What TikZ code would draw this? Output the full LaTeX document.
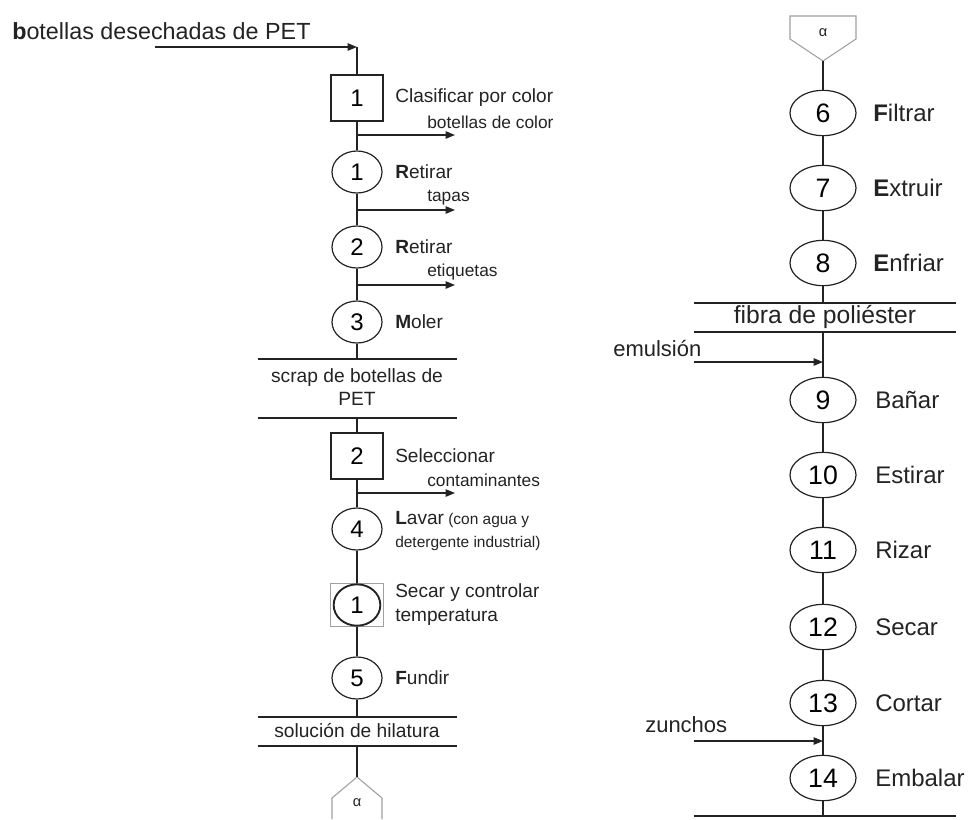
\documentclass[tikz,border=0pt]{standalone}
\usepackage{fontspec}
\setmainfont{Liberation Sans}
\usetikzlibrary{arrows.meta,shapes.geometric,positioning,calc}
\definecolor{lgray}{RGB}{160,160,160}
\definecolor{ink}{RGB}{35,35,35}

\begin{document}
\begin{tikzpicture}[x=0.75pt,y=-0.75pt,
  line/.style={draw=ink,line width=1pt},
  flow/.style={line,-{Triangle[length=7pt,width=5.5pt]}},
  opl/.style={ellipse,draw=ink,line width=0.9pt,minimum width=37.5pt,minimum height=31.5pt,inner sep=0pt,font=\fontsize{18}{18}\selectfont},
  opr/.style={opl,minimum width=49.5pt,minimum height=34pt,font=\fontsize{20}{20}\selectfont},
  insp/.style={rectangle,draw=ink,line width=1.8pt,minimum width=39pt,minimum height=34.5pt,inner sep=0pt,font=\fontsize{18}{18}\selectfont},
  lbl/.style={anchor=west,inner sep=0pt,text=ink,font=\fontsize{14.3}{17}\selectfont},
  sublbl/.style={anchor=west,inner sep=0pt,text=ink,font=\fontsize{13}{15}\selectfont},
  rlbl/.style={anchor=west,inner sep=0pt,text=ink,font=\fontsize{18}{20}\selectfont},
  mat/.style={inner sep=0pt,align=center,text=ink,font=\fontsize{14.4}{17.3}\selectfont},
  conn/.style={draw=lgray,line width=0.8pt}
]
\useasboundingbox (0,0) rectangle (970,819);

% ---------- left column
\node[anchor=west,inner sep=0pt,text=ink,font=\fontsize{17.5}{20}\selectfont] (title) at (12,31) {\textbf{b}otellas desechadas de PET};
\coordinate (in0) at (155,47);
\coordinate (in1) at (357,47);

\node[insp] (b1) at (357,98) {1};
\node[opl] (c1) at (357,172) {1};
\node[opl] (c2) at (357,247) {2};
\node[opl] (c3) at (357,322) {3};
\node[insp] (b2) at (357,456) {2};
\node[opl] (c4) at (357,529) {4};
\node[rectangle,draw=lgray,line width=1.2pt,minimum width=39.75pt,minimum height=32.25pt] (sq) at (357,605) {};
\node[opl,line width=1.4pt,minimum width=35pt,minimum height=31pt] (cb) at (357,605) {1};
\node[opl] (c5) at (357,678) {5};

\node[lbl] (tb1) at (395,98) {Clasificar por color};
\node[lbl] (tc1) at (395,172) {\textbf{R}etirar};
\node[lbl] (tc2) at (395,247) {\textbf{R}etirar};
\node[lbl] (tc3) at (395,322) {\textbf{M}oler};
\node[lbl] (tb2) at (395,456) {Seleccionar};
\node[lbl,align=left,font=\fontsize{11.6}{17}\selectfont] (tc4) at (395,531) {{\fontsize{14.3}{17}\selectfont\textbf{L}avar} (con agua y\\detergente industrial)};
\node[lbl,align=left,font=\fontsize{14.3}{18}\selectfont] (tcb) at (395,605) {Secar y controlar\\temperatura};
\node[lbl] (tc5) at (395,678) {\textbf{F}undir};

% salidas
\coordinate (o1) at (357,135); \coordinate (o1e) at (455,135);
\coordinate (o2) at (357,210); \coordinate (o2e) at (455,210);
\coordinate (o3) at (357,285); \coordinate (o3e) at (455,285);
\coordinate (o4) at (357,493); \coordinate (o4e) at (455,493);
\node[sublbl] (so1) at (427,122) {botellas de color};
\node[sublbl] (so2) at (427,198) {tapas};
\node[sublbl] (so3) at (427,272) {etiquetas};
\node[sublbl] (so4) at (427,480) {contaminantes};

% materiales
\coordinate (s1t) at (357,359); \coordinate (s1b) at (357,418);
\coordinate (s2t) at (357,717); \coordinate (s2b) at (357,746);
\draw[line] (258,359) -- (457,359);
\draw[line] (258,418) -- (457,418);
\node[mat] (scrap) at (357,387) {scrap de botellas de\\PET};
\draw[line] (258,717) -- (457,717);
\draw[line] (258,746) -- (457,746);
\node[mat] (hila) at (357,731) {solución de hilatura};

% conector alfa
\coordinate (aL) at (357,777);
\draw[conn] (332,819) -- (332,798) -- (aL) -- (382,798) -- (382,819);
\node[inner sep=0pt,text=ink,font=\fontsize{11}{11}\selectfont] (alfaL) at (357,803) {α};

\draw[flow] (in0) -- (in1);
\draw[line] (in1) -- (b1);
\draw[line] (b1) -- (c1);
\draw[line] (c1) -- (c2);
\draw[line] (c2) -- (c3);
\draw[line] (c3) -- (s1t);
\draw[line] (s1b) -- (b2);
\draw[line] (b2) -- (c4);
\draw[line] (c4) -- (sq);
\draw[line] (sq) -- (c5);
\draw[line] (c5) -- (s2t);
\draw[line] (s2b) -- (aL);
\draw[flow] (o1) -- (o1e);
\draw[flow] (o2) -- (o2e);
\draw[flow] (o3) -- (o3e);
\draw[flow] (o4) -- (o4e);

% ---------- right column
\coordinate (aR) at (823,61);
\draw[conn] (790,16) -- (856,16) -- (856,39) -- (aR) -- (790,39) -- cycle;
\node[inner sep=0pt,text=ink,font=\fontsize{11}{11}\selectfont] (alfaR) at (823,33) {α};

\node[opr] (c6) at (823,113) {6};
\node[opr] (c7) at (823,188) {7};
\node[opr] (c8) at (823,263) {8};
\node[opr] (c9) at (823,400) {9};
\node[opr] (c10) at (823,475) {10};
\node[opr] (c11) at (823,550) {11};
\node[opr] (c12) at (823,627) {12};
\node[opr] (c13) at (823,703) {13};
\node[opr] (c14) at (823,778) {14};

\node[rlbl] (tc6) at (873,113) {\textbf{F}iltrar};
\node[rlbl] (tc7) at (873,188) {\textbf{E}xtruir};
\node[rlbl] (tc8) at (873,263) {\textbf{E}nfriar};
\node[rlbl] (tc9) at (875,400) {Bañar};
\node[rlbl] (tc10) at (875,475) {Estirar};
\node[rlbl] (tc11) at (875,550) {Rizar};
\node[rlbl] (tc12) at (875,627) {Secar};
\node[rlbl] (tc13) at (875,703) {Cortar};
\node[rlbl] (tc14) at (875,778) {Embalar};

\coordinate (f1t) at (823,303); \coordinate (f1b) at (823,332);
\coordinate (fin) at (823,816);
\draw[line] (694,303) -- (956,303);
\draw[line] (694,332) -- (956,332);
\node[mat,font=\fontsize{18.5}{20}\selectfont] (fibra) at (825,317) {fibra de poliéster};
\draw[line] (694,816) -- (956,816);

% entradas
\coordinate (e1) at (694,362); \coordinate (e1e) at (823,362);
\coordinate (e2) at (694,741); \coordinate (e2e) at (823,741);
\node[anchor=west,inner sep=0pt,text=ink,font=\fontsize{16.5}{18}\selectfont] (emul) at (613,348) {emulsión};
\node[anchor=west,inner sep=0pt,text=ink,font=\fontsize{16.5}{18}\selectfont] (zun) at (645,725) {zunchos};

\draw[line] (aR) -- (c6);
\draw[line] (c6) -- (c7);
\draw[line] (c7) -- (c8);
\draw[line] (c8) -- (f1t);
\draw[line] (f1b) -- (c9);
\draw[line] (c9) -- (c10);
\draw[line] (c10) -- (c11);
\draw[line] (c11) -- (c12);
\draw[line] (c12) -- (c13);
\draw[line] (c13) -- (c14);
\draw[line] (c14) -- (fin);
\draw[flow] (e1) -- (e1e);
\draw[flow] (e2) -- (e2e);
\end{tikzpicture}
\end{document}
